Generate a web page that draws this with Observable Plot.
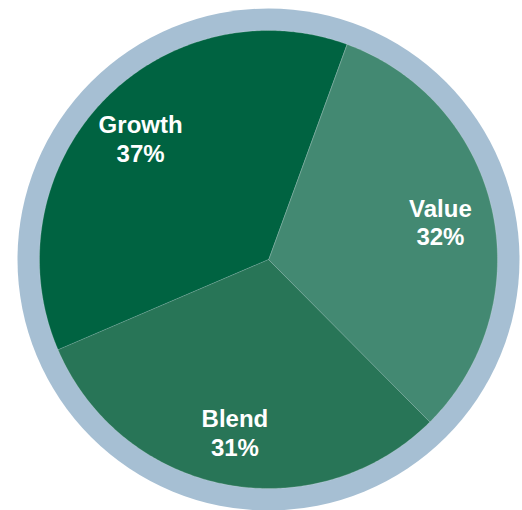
<!DOCTYPE html>
<html>
<head>
<meta charset="utf-8">
<script src="https://cdn.jsdelivr.net/npm/d3@7"></script>
<script src="https://cdn.jsdelivr.net/npm/@observablehq/plot@0.6"></script>
<style>
  html, body { margin: 0; padding: 0; background: #ffffff; }
  #chart { width: 522px; height: 510px; }
</style>
</head>
<body>
<div id="chart"></div>
<script>
// Data
const categories = ["Value", "Blend", "Growth"];
const shares = [32, 31, 37];
const labels = ["Value\n32%", "Blend\n31%", "Growth\n37%"];
const colors = ["#438972", "#287557", "#006341"];
const ringColor = "#a6bfd3";

// Geometry (pixel units; center at 268,259)
const W = 522, H = 510, CX = 268, CY = 259;
const R = 229, RING = 251, LABEL_R = 176;
const startDeg = 20;

const pie = d3.pie().sort(null).value(d => d.share)
  .startAngle(startDeg * Math.PI / 180)
  .endAngle((startDeg + 360) * Math.PI / 180);
const rows = categories.map((c, i) => ({category: c, share: shares[i], label: labels[i], color: colors[i]}));
const arcs = pie(rows);

// Build slice polygons from pie angles
const polys = [];
arcs.forEach(a => {
  polys.push({category: a.data.category, x: 0, y: 0});
  const n = Math.max(2, Math.ceil((a.endAngle - a.startAngle) / 0.01));
  for (let k = 0; k <= n; k++) {
    const t = a.startAngle + (a.endAngle - a.startAngle) * k / n;
    polys.push({category: a.data.category, x: R * Math.sin(t), y: R * Math.cos(t)});
  }
});
const labelPts = arcs.map(a => {
  const m = (a.startAngle + a.endAngle) / 2;
  return {label: a.data.label, x: LABEL_R * Math.sin(m), y: LABEL_R * Math.cos(m)};
});

const chart = Plot.plot({
  width: W,
  height: H,
  margin: 0,
  x: {domain: [-CX, W - CX], range: [0, W], axis: null},
  y: {domain: [-(H - CY), CY], range: [H, 0], axis: null},
  color: {domain: categories, range: colors},
  style: {background: "#ffffff", overflow: "visible"},
  marks: [
    Plot.dot([{x: 0, y: 0}], {x: "x", y: "y", r: RING, fill: ringColor, stroke: "none"}),
    Plot.line(polys, {x: "x", y: "y", z: "category", fill: "category", stroke: "#ffffff", strokeOpacity: 0.25, strokeWidth: 0.75, curve: "linear-closed"}),
    Plot.text(labelPts, {x: "x", y: "y", text: "label", fill: "#ffffff", fontSize: 24, fontWeight: "bold", fontFamily: "Liberation Sans, Arial, sans-serif", lineHeight: 1.2, textAnchor: "middle", lineAnchor: "middle"})
  ]
});
document.getElementById("chart").appendChild(chart);
</script>
</body>
</html>
